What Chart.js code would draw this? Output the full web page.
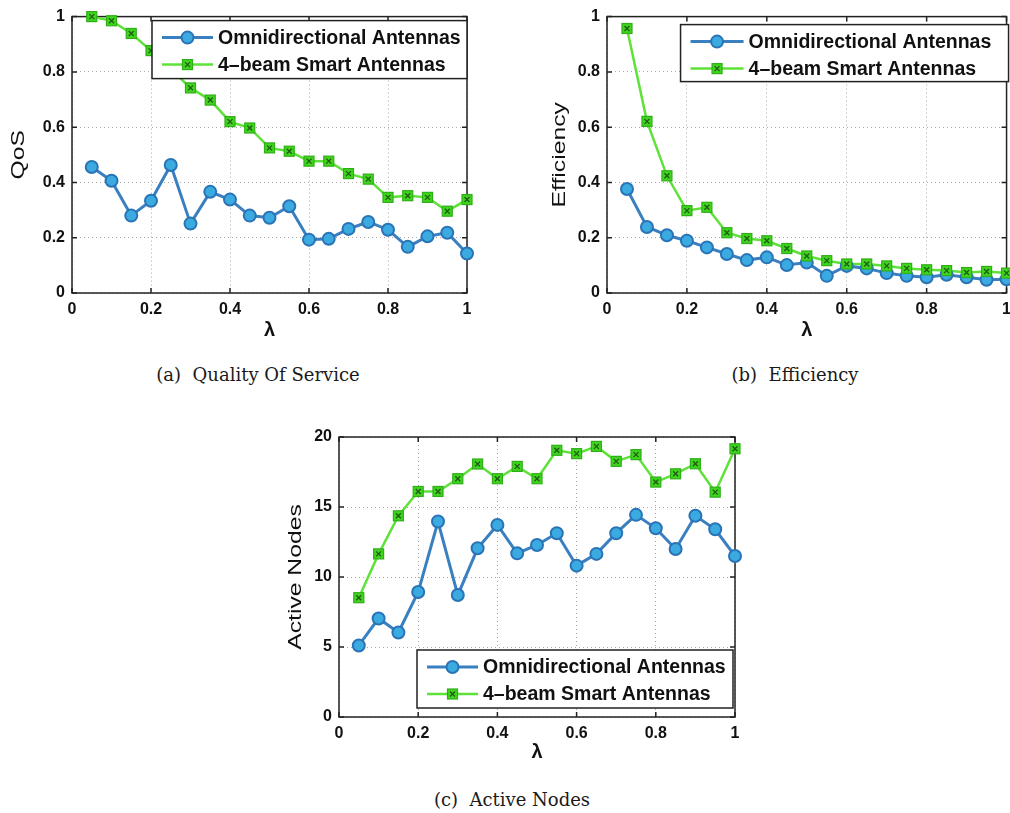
<!DOCTYPE html>
<html><head><meta charset="utf-8">
<script src="https://cdn.jsdelivr.net/npm/chart.js@4.4.0/dist/chart.umd.min.js"></script>
<style>
body{margin:0;background:#fff;width:1010px;height:813px;position:relative;overflow:hidden;}
canvas{position:absolute;}
.cap{position:absolute;font-family:"DejaVu Serif","Liberation Serif",serif;font-size:18px;color:#1a1a1a;transform:translateX(-50%);white-space:nowrap;}
</style></head><body>
<canvas id="ca" width="485" height="345" style="left:0;top:0"></canvas>
<canvas id="cb" width="493" height="345" style="left:525px;top:0"></canvas>
<canvas id="cc" width="485" height="345" style="left:265px;top:420px"></canvas>
<div class="cap" style="left:258px;top:364px">(a)&nbsp; Quality Of Service</div>
<div class="cap" style="left:795px;top:364px">(b)&nbsp; Efficiency</div>
<div class="cap" style="left:512px;top:789px">(c)&nbsp; Active Nodes</div>
<script>
const lambda = [0.05,0.10,0.15,0.20,0.25,0.30,0.35,0.40,0.45,0.50,0.55,0.60,0.65,0.70,0.75,0.80,0.85,0.90,0.95,1.00];
const seriesNames = ['Omnidirectional Antennas','4\u2013beam Smart Antennas'];
const qosOmni  = [0.456,0.406,0.280,0.334,0.463,0.251,0.366,0.338,0.280,0.272,0.314,0.193,0.196,0.232,0.257,0.229,0.167,0.205,0.218,0.143];
const qosSmart = [1.000,0.985,0.939,0.877,0.810,0.742,0.698,0.620,0.597,0.525,0.513,0.477,0.477,0.432,0.412,0.346,0.352,0.346,0.296,0.338];
const effOmni  = [0.376,0.239,0.209,0.189,0.165,0.141,0.119,0.129,0.101,0.110,0.062,0.098,0.089,0.072,0.062,0.057,0.066,0.057,0.048,0.050];
const effSmart = [0.957,0.621,0.424,0.298,0.310,0.218,0.197,0.189,0.161,0.134,0.117,0.105,0.105,0.098,0.089,0.084,0.081,0.074,0.078,0.072];
const nodesOmni  = [5.11,7.04,6.04,8.93,13.96,8.71,12.05,13.72,11.69,12.29,13.13,10.81,11.65,13.13,14.44,13.48,12.00,14.37,13.41,11.50];
const nodesSmart = [8.52,11.65,14.37,16.11,16.11,17.02,18.07,17.02,17.90,17.02,19.05,18.81,19.33,18.26,18.74,16.78,17.37,18.09,16.06,19.16];
const xTicks = [0,0.2,0.4,0.6,0.8,1];

const BLUE_LINE='#3a7fc0', BLUE_FILL='#3aaae0', BLUE_EDGE='#2a74b6';
const GREEN_LINE='#5ee23a', GREEN_FILL='#3fd51e', GREEN_EDGE='#2fae18', GREEN_X='#1f5a12';
const SANS='"Liberation Sans", Arial, Helvetica, sans-serif';

function pts(ys){ return lambda.map((x,i)=>({x:x,y:ys[i]})); }
function fmt(v){ return String(Math.round(v*100)/100); }

function drawBlueMarker(ctx,x,y){
  ctx.beginPath(); ctx.arc(x,y,6,0,Math.PI*2);
  ctx.fillStyle=BLUE_FILL; ctx.fill(); ctx.lineWidth=2; ctx.strokeStyle=BLUE_EDGE; ctx.stroke();
}
function drawGreenMarker(ctx,x,y){
  ctx.fillStyle=GREEN_FILL; ctx.fillRect(x-5,y-5,10,10);
  ctx.lineWidth=1.2; ctx.strokeStyle=GREEN_EDGE; ctx.strokeRect(x-5,y-5,10,10);
  ctx.beginPath(); ctx.moveTo(x-2.5,y-2.5); ctx.lineTo(x+2.5,y+2.5); ctx.moveTo(x+2.5,y-2.5); ctx.lineTo(x-2.5,y+2.5);
  ctx.strokeStyle=GREEN_X; ctx.lineWidth=1.3; ctx.stroke();
}

const framePlugin = {
  id:'frame',
  beforeDatasetsDraw(chart){
    const {ctx, chartArea:a} = chart;
    ctx.save();
    ctx.strokeStyle='#222'; ctx.lineWidth=1.5;
    const xs=chart.scales.x, ys=chart.scales.y;
    ctx.beginPath();
    xs.ticks.forEach(t=>{ const px=xs.getPixelForValue(t.value);
      ctx.moveTo(px,a.bottom); ctx.lineTo(px,a.bottom-5); ctx.moveTo(px,a.top); ctx.lineTo(px,a.top+5); });
    ys.ticks.forEach(t=>{ const py=ys.getPixelForValue(t.value);
      ctx.moveTo(a.left,py); ctx.lineTo(a.left+5,py); ctx.moveTo(a.right,py); ctx.lineTo(a.right-5,py); });
    ctx.stroke();
    ctx.strokeRect(a.left,a.top,a.right-a.left,a.bottom-a.top);
    ctx.restore();
  },
  afterDatasetsDraw(chart){
    const ctx=chart.ctx;
    ctx.save();
    const m1=chart.getDatasetMeta(1);
    m1.data.forEach(p=>drawGreenMarker(ctx,p.x,p.y));
    ctx.restore();
  },
  afterDraw(chart){
    const o=chart.options.plugins.frame;
    const {ctx, chartArea:a} = chart;
    ctx.save();
    ctx.translate(o.titleX,(a.top+a.bottom)/2);
    ctx.rotate(-Math.PI/2);
    ctx.scale(1.3,1);
    ctx.font='19px '+SANS; ctx.fillStyle='#111'; ctx.textAlign='center'; ctx.textBaseline='middle';
    ctx.fillText(o.yTitle,0,0);
    ctx.restore();
    const L=o.legend;
    const w=L.w, h=L.h;
    const x=a.right-L.right-w;
    const y=(L.top!=null)? a.top+L.top : a.bottom-L.bottom-h;
    ctx.save();
    ctx.fillStyle='#fff'; ctx.fillRect(x,y,w,h);
    ctx.strokeStyle='#222'; ctx.lineWidth=1.5; ctx.strokeRect(x,y,w,h);
    const rows=[y+17,y+44];
    const tx = x + (L.textX||66);
    ctx.font='bold 19.5px '+SANS; ctx.textBaseline='middle'; ctx.textAlign='left';
    ctx.strokeStyle=BLUE_LINE; ctx.lineWidth=3;
    ctx.beginPath(); ctx.moveTo(x+10,rows[0]); ctx.lineTo(tx-5,rows[0]); ctx.stroke();
    drawBlueMarker(ctx,(x+5+tx)/2,rows[0]);
    ctx.fillStyle='#111'; ctx.fillText(chart.data.datasets[0].label,tx,rows[0]+1);
    ctx.strokeStyle=GREEN_LINE; ctx.lineWidth=2.5;
    ctx.beginPath(); ctx.moveTo(x+10,rows[1]); ctx.lineTo(tx-5,rows[1]); ctx.stroke();
    drawGreenMarker(ctx,(x+5+tx)/2,rows[1]);
    ctx.fillStyle='#111'; ctx.fillText(chart.data.datasets[1].label,tx,rows[1]+1);
    ctx.restore();
  }
};

function makeChart(id, cfg){
  return new Chart(document.getElementById(id), {
    type:'line',
    data:{datasets:[
      {label:seriesNames[0], data:pts(cfg.omni), borderColor:BLUE_LINE, borderWidth:3,
       pointRadius:6, pointBackgroundColor:BLUE_FILL, pointBorderColor:BLUE_EDGE, pointBorderWidth:2,
       tension:0, clip:false},
      {label:seriesNames[1], data:pts(cfg.smart), borderColor:GREEN_LINE, borderWidth:2.5,
       pointRadius:0, tension:0, clip:false}
    ]},
    options:{
      responsive:false, animation:false, devicePixelRatio:1,
      layout:{padding:{left:0,right:cfg.padR,top:cfg.padT,bottom:0}},
      plugins:{legend:{display:false}, tooltip:{enabled:false},
        frame:{yTitle:cfg.yTitle, titleX:cfg.titleX, legend:cfg.legend}},
      scales:{
        x:{type:'linear', min:0, max:1,
           afterBuildTicks(s){ s.ticks = xTicks.map(v=>({value:v})); },
           afterFit(s){ s.height=cfg.xH; },
           border:{display:false, dash:[1,3]},
           grid:{color:'#a8a8a8', lineWidth:1, drawTicks:false},
           ticks:{padding:7, color:'#111', font:{family:SANS, size:16, weight:'bold'}, maxRotation:0, callback:v=>fmt(v)},
           title:{display:true, text:'\u03bb', color:'#111', font:{family:SANS,size:20,weight:'bold'}, padding:{top:0,bottom:cfg.lamPad}}
        },
        y:{type:'linear', min:0, max:cfg.yMax,
           ticks:{stepSize:cfg.yStep, padding:7, color:'#111', font:{family:SANS, size:16, weight:'bold'}, callback:v=>fmt(v)},
           afterFit(s){ s.width=cfg.yW; },
           border:{display:false, dash:[1,3]},
           grid:{color:'#a8a8a8', lineWidth:1, drawTicks:false}
        }
      }
    },
    plugins:[framePlugin]
  });
}

makeChart('ca',{omni:qosOmni, smart:qosSmart, yMax:1, yStep:0.2, yTitle:'QoS', titleX:19,
  yW:72, xH:52, padR:18, padT:14, lamPad:3,
  legend:{w:315,h:58,right:0,top:4,textX:66}});
makeChart('cb',{omni:effOmni, smart:effSmart, yMax:1, yStep:0.2, yTitle:'Efficiency', titleX:35,
  yW:82, xH:52, padR:0, padT:14, lamPad:3,
  legend:{w:328,h:57,right:-2,top:8,textX:68}});
makeChart('cc',{omni:nodesOmni, smart:nodesSmart, yMax:20, yStep:5, yTitle:'Active Nodes', titleX:31,
  yW:74, xH:48, padR:15, padT:17, lamPad:1,
  legend:{w:316,h:58,right:2,bottom:9,textX:66}});
</script>
</body></html>
